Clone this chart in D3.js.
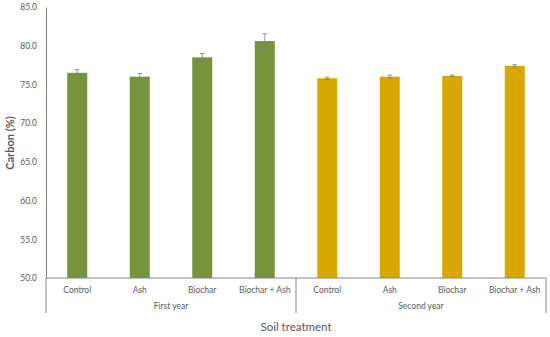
<!DOCTYPE html>
<html>
<head>
<meta charset="utf-8">
<script src="https://cdn.jsdelivr.net/npm/d3@7"></script>
<style>
  body { margin: 0; background: #fff; }
  text { font-family: Lato, "Open Sans", sans-serif; fill: #595959; }
</style>
</head>
<body>
<div id="chart"></div>
<script>
// data
var groups = ["First year", "Second year"];
var treatments = ["Control", "Ash", "Biochar", "Biochar + Ash"];
var firstYear = [76.5, 76.0, 78.5, 80.6];
var secondYear = [75.8, 76.0, 76.1, 77.4];
var firstErr = [0.4, 0.4, 0.5, 0.95];
var secondErr = [0.15, 0.2, 0.1, 0.15];
var yTicks = [50, 55, 60, 65, 70, 75, 80, 85];
var colors = ["#77933C", "#D9A800"];

var width = 550, height = 337;
var plotLeft = 46, plotRight = 546, plotTop = 7, plotBottom = 278;

// one row per bar
var rows = [];
treatments.forEach(function(t, i) {
  rows.push({group: 0, name: t, key: "a" + i, value: firstYear[i], err: firstErr[i]});
});
treatments.forEach(function(t, i) {
  rows.push({group: 1, name: t, key: "b" + i, value: secondYear[i], err: secondErr[i]});
});

var svg = d3.select("#chart").append("svg")
  .attr("width", width)
  .attr("height", height);

var x = d3.scaleBand()
  .domain(rows.map(function(d) { return d.key; }))
  .range([plotLeft, plotRight])
  .paddingInner(0.68)
  .paddingOuter(0.34);

var y = d3.scaleLinear()
  .domain([50, 85])
  .range([plotBottom, plotTop]);

// y axis
var yAxis = svg.append("g")
  .attr("transform", "translate(" + plotLeft + ",0)")
  .call(d3.axisLeft(y).tickValues(yTicks).tickSize(0).tickPadding(9).tickFormat(d3.format(".1f")));
yAxis.select(".domain").attr("stroke", "#868686").attr("stroke-width", 1);
yAxis.selectAll("text").style("font-size", "8.5px").attr("fill", "#595959");

// bars
svg.selectAll(".bar")
  .data(rows)
  .enter()
  .append("rect")
  .attr("class", "bar")
  .attr("x", function(d) { return x(d.key); })
  .attr("width", x.bandwidth())
  .attr("y", function(d) { return y(d.value); })
  .attr("height", function(d) { return y(50) - y(d.value); })
  .attr("fill", function(d) { return colors[d.group]; });

// error bars
var eb = svg.selectAll(".err")
  .data(rows)
  .enter()
  .append("g")
  .attr("class", "err")
  .attr("stroke", "#7f7f7f")
  .attr("stroke-width", 0.8);
eb.append("line")
  .attr("x1", function(d) { return x(d.key) + x.bandwidth() / 2; })
  .attr("x2", function(d) { return x(d.key) + x.bandwidth() / 2; })
  .attr("y1", function(d) { return y(d.value + d.err); })
  .attr("y2", function(d) { return y(d.value - d.err); });
eb.selectAll(".cap")
  .data(function(d) { return [d.value + d.err, d.value - d.err].map(function(v) { return {key: d.key, v: v}; }); })
  .enter()
  .append("line")
  .attr("x1", function(d) { return x(d.key) + x.bandwidth() / 2 - 2.5; })
  .attr("x2", function(d) { return x(d.key) + x.bandwidth() / 2 + 2.5; })
  .attr("y1", function(d) { return y(d.v); })
  .attr("y2", function(d) { return y(d.v); });

// x axis with grouped categories
var axisColor = "#868686";
var gx = svg.append("g");
gx.append("line")
  .attr("x1", plotLeft).attr("x2", plotRight)
  .attr("y1", plotBottom).attr("y2", plotBottom)
  .attr("stroke", axisColor);

var step = x.step();
var groupEdges = [plotLeft, plotLeft + step * 4, plotRight];
gx.selectAll(".sep")
  .data(groupEdges)
  .enter()
  .append("line")
  .attr("x1", function(d) { return d; })
  .attr("x2", function(d) { return d; })
  .attr("y1", plotBottom)
  .attr("y2", 313)
  .attr("stroke", axisColor);

gx.selectAll(".cat")
  .data(rows)
  .enter()
  .append("text")
  .attr("x", function(d) { return x(d.key) + x.bandwidth() / 2; })
  .attr("y", 293)
  .attr("text-anchor", "middle")
  .style("font-size", "8.5px")
  .text(function(d) { return d.name; });

gx.selectAll(".grp")
  .data(groups)
  .enter()
  .append("text")
  .attr("x", function(d, i) { return (groupEdges[i] + groupEdges[i + 1]) / 2; })
  .attr("y", 309)
  .attr("text-anchor", "middle")
  .style("font-size", "8.5px")
  .text(function(d) { return d; });

// axis titles
svg.append("text")
  .attr("x", (plotLeft + plotRight) / 2)
  .attr("y", 331)
  .attr("text-anchor", "middle")
  .style("font-size", "11.5px")
  .attr("fill", "#404040")
  .text("Soil treatment");

svg.append("text")
  .attr("transform", "translate(14," + 143 + ") rotate(-90)")
  .attr("text-anchor", "middle")
  .style("font-size", "11px")
  .style("font-weight", "bold")
  .attr("fill", "#404040")
  .text("Carbon (%)");
</script>
</body>
</html>
